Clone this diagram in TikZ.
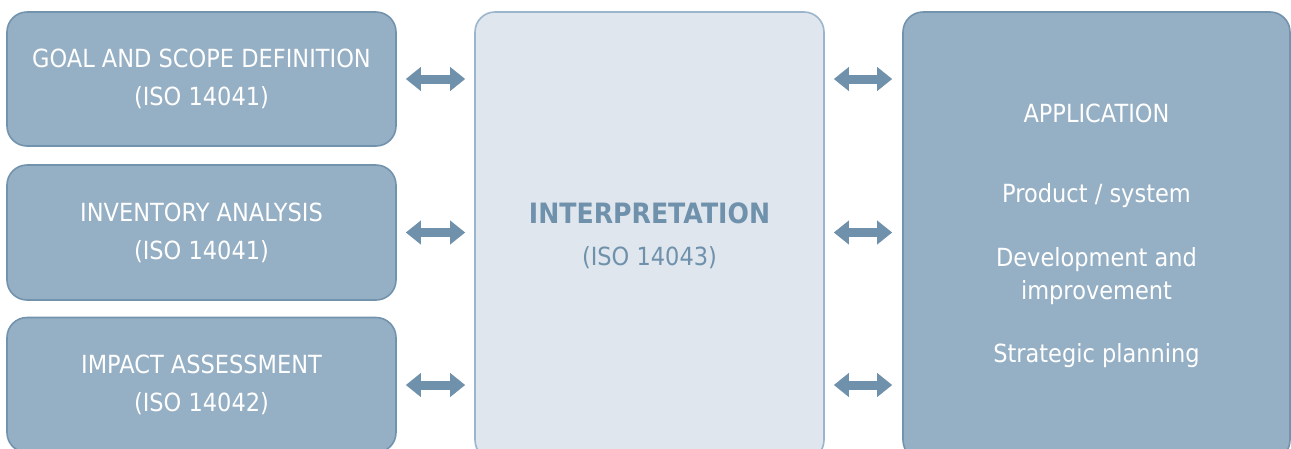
\documentclass[tikz,border=0pt]{standalone}
\usepackage{fontspec}
\setmainfont{DejaVu Sans}[FakeStretch=0.9]
\usetikzlibrary{arrows.meta}

\definecolor{stagefill}{HTML}{95AFC4}
\definecolor{stageline}{HTML}{7293AD}
\definecolor{interpfill}{HTML}{DFE6ED}
\definecolor{interpline}{HTML}{9BB6CC}
\definecolor{arrowblue}{HTML}{6F91AB}

\tikzset{
	stage/.style={draw=stageline, fill=stagefill, line width=1.6pt, rounded corners=20pt,
		text=white, align=center, font=\fontsize{25}{38}\selectfont,
		minimum width=389pt, minimum height=135pt, inner sep=0pt},
	interp/.style={draw=interpline, fill=interpfill, line width=1.6pt, rounded corners=20pt,
		text=arrowblue, align=center, font=\fontsize{25}{42}\selectfont,
		minimum width=349pt, minimum height=448pt, inner sep=0pt},
	twoway/.style={draw=arrowblue, line width=9pt,
		{Triangle[length=15pt,width=23pt]}-{Triangle[length=15pt,width=23pt]}}
}

\begin{document}
\begin{tikzpicture}[x=1pt,y=-1pt]
			\clip (0,0) rectangle (1291,448);
			% the three stages on the left
			\node[stage, minimum height=134pt] (goal) at (201.5,79) {GOAL AND SCOPE DEFINITION\\(ISO 14041)};
			\node[stage] (inventory) at (201.5,232.5) {INVENTORY ANALYSIS\\(ISO 14041)};
			\node[stage] (impact) at (201.5,385) {IMPACT ASSESSMENT\\(ISO 14042)};
			% interpretation and application
			\node[interp] (interpretation) at (649.5,236) {{\fontsize{28}{42}\selectfont\bfseries INTERPRETATION}\\(ISO 14043)};
			\node[stage, minimum width=387pt, minimum height=448pt, font=\fontsize{25}{33}\selectfont] (application) at (1096.5,236)
				{APPLICATION\\[47pt]Product / system\\[31pt]Development and\\improvement\\[30pt]Strategic planning};
			% two-way arrows
			\foreach \s in {goal,inventory,impact}{
				\draw[twoway] ([xshift=9pt]\s.east) -- ([xshift=-9pt]\s.east -| interpretation.west);
				\draw[twoway] ([xshift=9pt]\s.east -| interpretation.east) -- ([xshift=-10pt]\s.east -| application.west);
			}
		\end{tikzpicture}
\end{document}
